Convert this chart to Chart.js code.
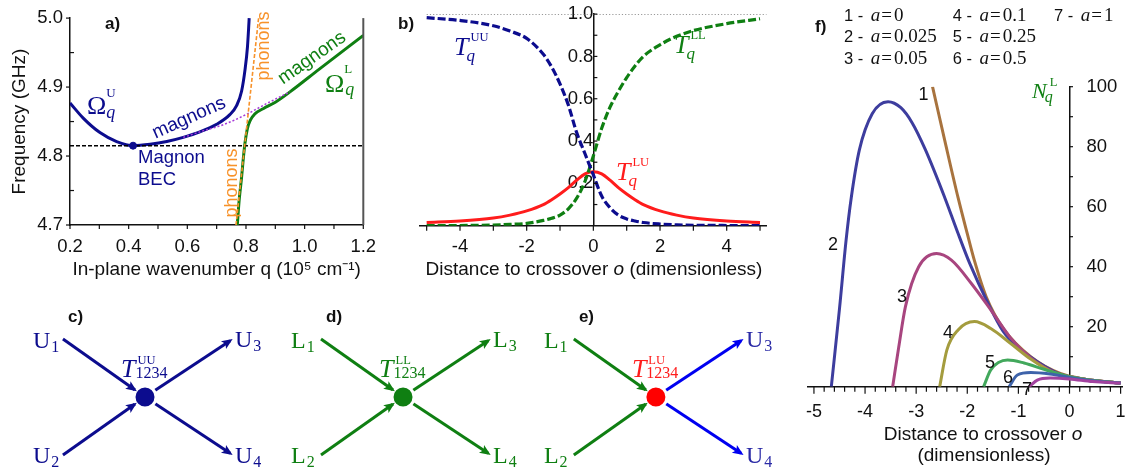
<!DOCTYPE html>
<html>
<head>
<meta charset="utf-8">
<title>Magnon–phonon crossover</title>
<script src="https://cdn.jsdelivr.net/npm/chart.js@4.4.1/dist/chart.umd.min.js"></script>
<style>
  html, body { margin: 0; padding: 0; background: #fff; overflow: hidden; }
  #figure { position: relative; width: 1129px; height: 472px; overflow: hidden; }
  #figure canvas { position: absolute; }
</style>
</head>
<body>
<div id="figure">
  <canvas id="panel-a" width="390" height="290" style="left:0;top:0"></canvas>
  <canvas id="panel-b" width="390" height="290" style="left:390px;top:0"></canvas>
  <canvas id="panel-cde" width="780" height="182" style="left:0;top:290px"></canvas>
  <canvas id="panel-f" width="360" height="472" style="left:780px;top:0"></canvas>
</div>
<script>
/* ---------- colours & fonts ---------- */
const INK = '#111';
const SANS = "'Liberation Sans', Arial, sans-serif";
const SERIF = "'Liberation Serif', 'Times New Roman', serif";
const NAVY = '#0c0c8e';
const GREEN = '#0f7f12';
const ORANGE = '#f7922a';
const VIOLET = '#a63ad8';
const RED = '#ff1c1c';
const BLUE = '#0000f0';

Chart.defaults.font.family = SANS;
Chart.defaults.color = INK;

/* ---------- a) dispersion branches ---------- */
const aTicksX = [0.2, 0.4, 0.6, 0.8, 1.0, 1.2];
const aMinorX = [0.3, 0.5, 0.7, 0.9, 1.1];
const aTicksY = [4.7, 4.8, 4.9, 5.0];
const aMinorY = [4.75, 4.85, 4.95];

const upperQ = [0.2, 0.245, 0.302, 0.359, 0.416, 0.473, 0.53, 0.586, 0.643, 0.7, 0.745, 0.768, 0.785, 0.797, 0.805, 0.811];
const upperF = [4.877, 4.855, 4.834, 4.821, 4.815, 4.817, 4.821, 4.827, 4.835, 4.846, 4.86, 4.873, 4.894, 4.926, 4.958, 5.0];
const lowerQ = [0.7704, 0.777, 0.785, 0.791, 0.797, 0.805, 0.815, 0.83, 0.86, 0.9, 0.95, 1.05, 1.2];
const lowerF = [4.7, 4.737, 4.769, 4.797, 4.82, 4.84, 4.852, 4.861, 4.869, 4.878, 4.893, 4.926, 4.975];
const bareQ = [0.586, 0.65, 0.72, 0.8, 0.87, 0.95];
const bareF = [4.827, 4.836, 4.845, 4.86, 4.876, 4.893];
const phononQ = [0.766, 0.843];
const phononF = [4.7, 5.0];
const becQ = 0.415;
const becF = 4.815;

/* ---------- b) vertex weights vs distance to crossover ---------- */
const bTicksX = [-4, -2, 0, 2, 4];
const bMarksX = [-5, -4, -3, -2, -1, 0, 1, 2, 3, 4, 5];
const bTicksY = [0.2, 0.4, 0.6, 0.8, 1.0];
const bMarksY = [0.1, 0.2, 0.3, 0.4, 0.5, 0.6, 0.7, 0.8, 0.9, 1.0];
const bO  = [-5, -4, -3, -2.5, -2, -1.5, -1.25, -1, -0.75, -0.5, -0.25, 0, 0.25, 0.5, 0.75, 1, 1.25, 1.5, 2, 2.5, 3, 4, 5];
const bUU = [0.983, 0.97, 0.945, 0.92, 0.885, 0.81, 0.75, 0.67, 0.57, 0.44, 0.34, 0.24, 0.14, 0.085, 0.05, 0.032, 0.022, 0.015, 0.008, 0.004, 0.002, 0.001, 0.0];
const bLL = [0.0, 0.001, 0.003, 0.006, 0.011, 0.025, 0.035, 0.05, 0.08, 0.13, 0.21, 0.33, 0.46, 0.56, 0.635, 0.7, 0.755, 0.8, 0.855, 0.895, 0.922, 0.955, 0.978];
const bLU = [0.015, 0.022, 0.036, 0.05, 0.07, 0.1, 0.123, 0.15, 0.18, 0.215, 0.245, 0.255, 0.245, 0.215, 0.18, 0.15, 0.123, 0.1, 0.07, 0.05, 0.036, 0.022, 0.015];
const bUnity = 1.0;

/* ---------- f) occupation of the lower branch ---------- */
const fTicksX = [-5, -4, -3, -2, -1, 0, 1];
const fTicksY = [20, 40, 60, 80, 100];
const fAValues = ['0', '0.025', '0.05', '0.1', '0.25', '0.5', '1'];
const fO1 = [-2.68, -2.44, -2.18, -2.0, -1.86, -1.63, -1.28, -0.76, -0.18, 0.3, 1.0];
const fN1 = [100, 82, 63, 51, 42, 30, 19, 10, 4.4, 2.5, 1.2];
const fO2 = [-4.66, -4.5, -4.37, -4.27, -4.11, -3.86, -3.55, -3.3, -3.08, -2.82, -2.44, -2.2, -1.95, -1.6, -1.3, -1.0, -0.6, -0.2, 0.3, 1.0];
const fN2 = [0, 26, 49, 63, 79, 91, 95, 93, 88, 79, 63, 52, 41, 28, 18.5, 13, 8, 4.3, 2.5, 1.2];
const fO3 = [-3.46, -3.34, -3.21, -2.95, -2.6, -2.31, -1.92, -1.54, -1.15, -0.76, -0.3, 0.3, 1.0];
const fN3 = [0, 13.3, 26.7, 40, 44.4, 42.2, 34.4, 25.6, 16.2, 9.6, 4.8, 2.5, 1.2];
const fO4 = [-2.54, -2.4, -2.18, -1.86, -1.54, -1.15, -0.76, -0.3, 0.3, 1.0];
const fN4 = [0, 12.2, 18.9, 21.7, 19.4, 14.4, 9.2, 4.6, 2.5, 1.2];
const fO5 = [-1.68, -1.54, -1.21, -0.89, -0.5, 0, 0.5, 1.0];
const fN5 = [0, 5.6, 8.9, 7.9, 5.8, 3.3, 2.0, 1.2];
const fO6 = [-1.18, -1.02, -0.76, -0.38, 0, 0.5, 1.0];
const fN6 = [0, 3.9, 4.7, 4.2, 3.1, 1.9, 1.2];
const fO7 = [-0.79, -0.63, -0.38, 0, 0.45, 1.0];
const fN7 = [0, 2.2, 2.9, 2.6, 1.7, 1.2];
const fColors = ['#a8733e', '#3d3d9e', '#a8457f', '#a49c3e', '#42a85c', '#3e63aa', '#a2429f'];

/* ---------- c), d), e) four-wave vertices ---------- */
const vertexCenters = [0, 1, 1.98];
const vertexTags = ['c)', 'd)', 'e)'];
const vertexKinds = ['UU', 'LL', 'LU'];
const inNames = ['U', 'L', 'L'];
const outNames = ['U', 'L', 'U'];
const inColors = [NAVY, GREEN, GREEN];
const outColors = [NAVY, GREEN, BLUE];
const dotColors = [NAVY, GREEN, '#ff0000'];
const kindColors = [NAVY, GREEN, RED];
const outTextColors = [NAVY, GREEN, '#2a2aa6'];

/* ---------- helpers ---------- */
const pts = (xs, ys) => xs.map((x, i) => ({ x, y: ys[i] }));

function curve(xs, ys, color, width, extra) {
  return Object.assign({
    data: pts(xs, ys), borderColor: color, backgroundColor: color,
    borderWidth: width, pointRadius: 0, fill: false, cubicInterpolationMode: 'monotone'
  }, extra || {});
}

function drawItem(ctx, it) {
  ctx.save();
  ctx.textBaseline = it.baseline || 'alphabetic';
  ctx.translate(it.x, it.y);
  if (it.rotate) ctx.rotate(it.rotate * Math.PI / 180);
  const runs = it.runs || [[it.text, it.font, it.color]];
  let width = 0;
  runs.forEach(r => { ctx.font = r[1]; width += ctx.measureText(r[0]).width + (r[3] || 0); });
  let x = it.align === 'center' ? -width / 2 : 0;
  ctx.textAlign = 'left';
  runs.forEach(r => {
    ctx.font = r[1];
    ctx.fillStyle = r[2] || it.color || INK;
    x += r[3] || 0;
    ctx.fillText(r[0], x, 0);
    x += ctx.measureText(r[0]).width;
  });
  ctx.restore();
}

// symbol with a superscript tag and a subscript stacked after it
function drawScript(ctx, s) {
  ctx.font = s.font;
  const w = ctx.measureText(s.base).width;
  drawItem(ctx, { text: s.base, x: s.x, y: s.y, font: s.font, color: s.color });
  if (s.sup) drawItem(ctx, { text: s.sup, x: s.x + w + s.supDx, y: s.y - s.supDy, font: s.supFont, color: s.color });
  if (s.sub) drawItem(ctx, { text: s.sub, x: s.x + w + s.subDx, y: s.y + s.subDy, font: s.subFont, color: s.color });
}

// free text placed in canvas pixels
function notes(items, scripts) {
  return {
    id: 'notes',
    afterDraw(chart) {
      items.forEach(it => drawItem(chart.ctx, it));
      (scripts || []).forEach(s => drawScript(chart.ctx, s));
    }
  };
}

// tick marks drawn against the chart's own scales
function tickMarks(sets) {
  return {
    id: 'tickMarks',
    afterDraw(chart) {
      const { ctx, scales: { x, y } } = chart;
      ctx.save();
      ctx.strokeStyle = INK;
      ctx.lineWidth = 1.2;
      sets.forEach(s => s.values.forEach(v => {
        ctx.beginPath();
        if (s.axis === 'x') {
          const px = x.getPixelForValue(v), py = y.getPixelForValue(s.at);
          ctx.moveTo(px, py); ctx.lineTo(px, py + s.dir * s.len);
        } else {
          const px = x.getPixelForValue(s.at), py = y.getPixelForValue(v);
          ctx.moveTo(px, py); ctx.lineTo(px + s.dir * s.len, py);
        }
        ctx.stroke();
      }));
      ctx.restore();
    }
  };
}

const baseOptions = () => ({
  responsive: false, animation: false, devicePixelRatio: 1, events: [],
  plugins: { legend: { display: false }, tooltip: { enabled: false } }
});

const noGrid = { display: false, drawTicks: false };

// T_q^XY style label used in panel b
const tq = (x, y, tag, color) => ({
  base: 'T', x, y, color, font: `italic 26px ${SERIF}`,
  sup: tag, supFont: `12.5px ${SERIF}`, supDx: 2, supDy: 14,
  sub: 'q', subFont: `italic 17px ${SERIF}`, subDx: -2, subDy: 6
});

/* ---------- a) ---------- */
new Chart(document.getElementById('panel-a'), {
  type: 'line',
  data: {
    datasets: [
      curve(phononQ, phononF, ORANGE, 1.6, { borderDash: [4, 2], order: 0 }),
      curve(bareQ, bareF, VIOLET, 1.5, { borderDash: [2, 2], order: 1 }),
      curve([0.2, 1.2], [becF, becF], '#000', 1.4, { borderDash: [4, 2], order: 2 }),
      curve(upperQ, upperF, NAVY, 3, { order: 3 }),
      curve(lowerQ, lowerF, GREEN, 3, { order: 3 }),
      { data: [{ x: becQ, y: becF }], showLine: false, pointRadius: 3.5,
        backgroundColor: NAVY, borderColor: NAVY, order: 0 }
    ]
  },
  options: Object.assign(baseOptions(), {
    layout: { autoPadding: false, padding: { top: 10, right: 26.7, left: 0, bottom: 0 } },
    scales: {
      x: {
        type: 'linear', min: 0.2, max: 1.2,
        afterFit: s => { s.height = 65; },
        afterBuildTicks: s => { s.ticks = aTicksX.map(v => ({ value: v })); },
        ticks: { padding: 10.5, font: { size: 18.5 }, autoSkip: false, maxRotation: 0, callback: v => v.toFixed(1) },
        grid: noGrid, border: { color: INK, width: 1.5 },
        title: { display: true, text: 'In-plane wavenumber q (10⁵ cm⁻¹)', font: { size: 19 }, padding: { top: 0, bottom: 9.2 } }
      },
      y: {
        type: 'linear', min: 4.7, max: 5.0,
        afterFit: s => { s.width = 70; },
        afterBuildTicks: s => { s.ticks = aTicksY.map(v => ({ value: v })); },
        ticks: { padding: 7, font: { size: 18.5 }, autoSkip: false, callback: v => v.toFixed(1) },
        grid: noGrid, border: { color: INK, width: 1.5 },
        title: { display: true, text: 'Frequency (GHz)', font: { size: 19 }, padding: { top: 8.4, bottom: 0 } }
      }
    }
  }),
  plugins: [
    tickMarks([
      { axis: 'x', at: 4.7, values: aTicksX.concat(aMinorX), len: 4, dir: 1 },
      { axis: 'y', at: 0.2, values: aTicksY, len: 4, dir: -1 },
      { axis: 'y', at: 0.2, values: aMinorY, len: 4, dir: 1 }
    ]),
    {
      id: 'rightEdge',
      afterDraw(chart) {
        const { ctx, chartArea: a } = chart;
        ctx.save();
        ctx.strokeStyle = '#555';
        ctx.lineWidth = 2;
        ctx.beginPath(); ctx.moveTo(a.right, a.top); ctx.lineTo(a.right, a.bottom); ctx.stroke();
        ctx.restore();
      }
    },
    notes([
      { text: 'a)', x: 105, y: 29, font: `bold 17px ${SANS}` },
      { text: 'magnons', x: 189, y: 118, font: `19px ${SANS}`, color: NAVY, baseline: 'middle', align: 'center', rotate: -24 },
      { text: 'Magnon', x: 138, y: 163, font: `18.5px ${SANS}`, color: NAVY },
      { text: 'BEC', x: 138, y: 185, font: `18.5px ${SANS}`, color: NAVY },
      { text: 'phonons', x: 264, y: 46, font: `18px ${SANS}`, color: ORANGE, baseline: 'middle', align: 'center', rotate: -90 },
      { text: 'phonons', x: 232, y: 183, font: `18px ${SANS}`, color: ORANGE, baseline: 'middle', align: 'center', rotate: -90 },
      { text: 'magnons', x: 312, y: 58, font: `19px ${SANS}`, color: GREEN, baseline: 'middle', align: 'center', rotate: -35 }
    ], [
      { base: 'Ω', x: 87, y: 114, color: NAVY, font: `26px ${SERIF}`,
        sup: 'U', supFont: `13px ${SERIF}`, supDx: 0, supDy: 17, sub: 'q', subFont: `italic 18px ${SERIF}`, subDx: 0, subDy: 4 },
      { base: 'Ω', x: 325, y: 92, color: GREEN, font: `26px ${SERIF}`,
        sup: 'L', supFont: `13px ${SERIF}`, supDx: 0, supDy: 19, sub: 'q', subFont: `italic 18px ${SERIF}`, subDx: 1, subDy: 3 }
    ])
  ]
});

/* ---------- b) ---------- */
new Chart(document.getElementById('panel-b'), {
  type: 'line',
  data: {
    datasets: [
      curve([-5, 5.2], [bUnity, bUnity], '#777', 1.2, { borderDash: [1.2, 2], order: 3 }),
      curve(bO, bLU, RED, 3, { order: 2 }),
      curve(bO, bLL, GREEN, 3.2, { borderDash: [8, 3], order: 1 }),
      curve(bO, bUU, NAVY, 3.2, { borderDash: [8, 3], order: 0 })
    ]
  },
  options: Object.assign(baseOptions(), {
    layout: { autoPadding: false, padding: { top: 10.7, right: 13.3, left: 30, bottom: 0 } },
    scales: {
      x: {
        type: 'linear', min: -5.2, max: 5.2,
        afterFit: s => { s.height = 64.3; },
        afterBuildTicks: s => { s.ticks = bTicksX.map(v => ({ value: v })); },
        ticks: { padding: 10.5, font: { size: 18.5 }, autoSkip: false, maxRotation: 0, callback: v => String(v) },
        grid: noGrid, border: { color: INK, width: 1.5 }
      },
      y: {
        type: 'linear', min: 0, max: 1, position: { x: 0 },
        afterBuildTicks: s => { s.ticks = bTicksY.map(v => ({ value: v })); },
        ticks: { padding: 3, font: { size: 18.5 }, autoSkip: false, callback: v => v.toFixed(1) },
        grid: noGrid, border: { color: INK, width: 1.5 }
      }
    }
  }),
  plugins: [
    tickMarks([
      { axis: 'x', at: 0, values: bMarksX, len: 5, dir: 1 },
      { axis: 'y', at: 0, values: bMarksY, len: 4, dir: 1 }
    ]),
    notes([
      { text: 'b)', x: 8, y: 29, font: `bold 17px ${SANS}` },
      { x: 204, y: 275, align: 'center', runs: [
        ['Distance to crossover ', `19px ${SANS}`],
        ['o', `italic 19px ${SANS}`],
        [' (dimensionless)', `19px ${SANS}`]
      ] }
    ], [
      tq(64, 55, 'UU', NAVY),
      tq(284, 53, 'LL', GREEN),
      tq(226, 180, 'LU', RED)
    ])
  ]
});

/* ---------- c), d), e) ---------- */
const legIn = { dx: -0.318, dy: 1.0 };
const legOut = { dx: 0.33, dy: 0.97 };
const vertexSets = [];
vertexCenters.forEach((c, i) => {
  [1, -1].forEach(s => {
    vertexSets.push({ data: [{ x: c + legIn.dx, y: s * legIn.dy }, { x: c, y: 0 }],
      borderColor: inColors[i], borderWidth: 3, pointRadius: 0, order: 1 });
    vertexSets.push({ data: [{ x: c, y: 0 }, { x: c + legOut.dx, y: s * legOut.dy }],
      borderColor: outColors[i], borderWidth: 3, pointRadius: 0, order: 1 });
  });
  vertexSets.push({ data: [{ x: c, y: 0 }], showLine: false, pointRadius: 11,
    pointBorderWidth: 3, pointBorderColor: '#fff', pointBackgroundColor: dotColors[i], order: 0 });
});

function arrowHead(ctx, tx, ty, ux, uy, color) {
  const len = 11, half = 4.6;
  const bx = tx - ux * len, by = ty - uy * len;
  ctx.beginPath();
  ctx.moveTo(tx, ty);
  ctx.lineTo(bx - uy * half, by + ux * half);
  ctx.lineTo(bx + ux * 2.5, by + uy * 2.5);
  ctx.lineTo(bx + uy * half, by - ux * half);
  ctx.closePath();
  ctx.fillStyle = color;
  ctx.fill();
}

new Chart(document.getElementById('panel-cde'), {
  type: 'line',
  data: { datasets: vertexSets },
  options: Object.assign(baseOptions(), {
    layout: { autoPadding: false, padding: 0 },
    scales: {
      x: { type: 'linear', display: false, min: -0.562, max: 2.461 },
      y: { type: 'linear', display: false, min: -1.293, max: 1.845 }
    }
  }),
  plugins: [{
    id: 'vertexDecor',
    afterDatasetsDraw(chart) {
      const { ctx, scales: { x, y } } = chart;
      ctx.save();
      vertexCenters.forEach((c, i) => {
        const cx = x.getPixelForValue(c), cy = y.getPixelForValue(0);
        [1, -1].forEach(s => {
          const sx = x.getPixelForValue(c + legIn.dx), sy = y.getPixelForValue(s * legIn.dy);
          let ux = cx - sx, uy = cy - sy;
          const L = Math.hypot(ux, uy); ux /= L; uy /= L;
          arrowHead(ctx, cx - ux * 10, cy - uy * 10, ux, uy, inColors[i]);
          const ex = x.getPixelForValue(c + legOut.dx), ey = y.getPixelForValue(s * legOut.dy);
          let vx = ex - cx, vy = ey - cy;
          const M = Math.hypot(vx, vy); vx /= M; vy /= M;
          arrowHead(ctx, ex + vx * 3, ey + vy * 3, vx, vy, outColors[i]);
        });
      });
      ctx.restore();
    },
    afterDraw(chart) {
      const { ctx, scales: { x, y } } = chart;
      const big = `24px ${SERIF}`, small = `16px ${SERIF}`;
      vertexCenters.forEach((c, i) => {
        const cx = x.getPixelForValue(c), cy = y.getPixelForValue(0);
        drawItem(ctx, { text: vertexTags[i], x: cx - 77, y: cy - 75, font: `bold 17px ${SANS}` });
        const legLabels = [
          [inNames[i], '1', -112, -49, inColors[i]],
          [inNames[i], '2', -112, 66, inColors[i]],
          [outNames[i], '3', 90, -50, outTextColors[i]],
          [outNames[i], '4', 90, 66, outTextColors[i]]
        ];
        legLabels.forEach(([n, k, dx, dy, col]) => drawScript(ctx, {
          base: n, x: cx + dx, y: cy + dy, color: col, font: big,
          sub: k, subFont: small, subDx: 1, subDy: 4
        }));
        drawScript(ctx, {
          base: 'T', x: cx - 24, y: cy - 20, color: kindColors[i], font: `italic 26px ${SERIF}`,
          sup: vertexKinds[i], supFont: `12.5px ${SERIF}`, supDx: 2, supDy: 13,
          sub: '1234', subFont: small, subDx: 0, subDy: 1
        });
      });
    }
  }]
});

/* ---------- f) ---------- */
const fSeries = [[fO1, fN1], [fO2, fN2], [fO3, fN3], [fO4, fN4], [fO5, fN5], [fO6, fN6], [fO7, fN7]];
const fMinor = [];
for (let k = 1; k < 31; k++) if (k % 5) fMinor.push(-5 + k * 0.2);
const fMarksY = [10, 20, 30, 40, 50, 60, 70, 80, 90, 100];

const fLegend = fAValues.map((v, i) => ({
  x: [64, 172.7, 274][Math.floor(i / 3)],
  y: [21, 42, 64][i % 3],
  runs: [[`${i + 1} - `, `16.5px ${SANS}`], ['a', `italic 19px ${SERIF}`, INK, 3],
         ['=', `19px ${SERIF}`, INK, 1], [v, `19px ${SERIF}`, INK, 2]]
}));

const fCurveTags = [[143.5, 100], [53, 250], [122, 302], [168, 338], [210, 368], [228, 383], [247, 395]]
  .map(([x, y], i) => ({ text: String(i + 1), x, y, align: 'center', font: `18px ${SANS}` }));

new Chart(document.getElementById('panel-f'), {
  type: 'line',
  data: {
    datasets: fSeries.map(([o, n], i) => curve(o, n, fColors[i], 3, { order: 10 - i }))
  },
  options: Object.assign(baseOptions(), {
    layout: { autoPadding: false, padding: { top: 86.7, right: 13.3, left: 27.3, bottom: 0 } },
    scales: {
      x: {
        type: 'linear', min: -5.13, max: 1.04,
        afterFit: s => { s.height = 85.3; },
        afterBuildTicks: s => { s.ticks = fTicksX.map(v => ({ value: v })); },
        ticks: { padding: 14.3, font: { size: 18 }, autoSkip: false, maxRotation: 0, callback: v => String(v) },
        grid: noGrid, border: { color: INK, width: 1.5 }
      },
      y: {
        type: 'linear', min: 0, max: 100, position: { x: 0 },
        ticks: { display: false },
        grid: noGrid, border: { color: INK, width: 1.5 }
      }
    }
  }),
  plugins: [
    tickMarks([
      { axis: 'x', at: 0, values: fTicksX, len: 7, dir: 1 },
      { axis: 'x', at: 0, values: fMinor, len: 5, dir: 1 },
      { axis: 'y', at: 0, values: fMarksY, len: 3.5, dir: 1 }
    ]),
    {
      id: 'rightLabels',
      afterDraw(chart) {
        const { ctx, scales: { x, y } } = chart;
        const ax = x.getPixelForValue(0);
        fTicksY.forEach(v => drawItem(ctx, { text: String(v), x: ax + 17, y: y.getPixelForValue(v), baseline: 'middle', font: `18.5px ${SANS}` }));
      }
    },
    notes([
      { text: 'f)', x: 35, y: 32, font: `bold 17px ${SANS}` },
      ...fLegend,
      ...fCurveTags,
      { x: 203, y: 440, align: 'center', runs: [['Distance to crossover ', `19px ${SANS}`], ['o', `italic 19px ${SANS}`]] },
      { text: '(dimensionless)', x: 204, y: 461, align: 'center', font: `19px ${SANS}` }
    ], [
      { base: 'N', x: 252, y: 98, color: GREEN, font: `italic 22px ${SERIF}`,
        sup: 'L', supFont: `12.5px ${SERIF}`, supDx: 3, supDy: 12, sub: 'q', subFont: `italic 16px ${SERIF}`, subDx: -2, subDy: 4 }
    ])
  ]
});
</script>
</body>
</html>
